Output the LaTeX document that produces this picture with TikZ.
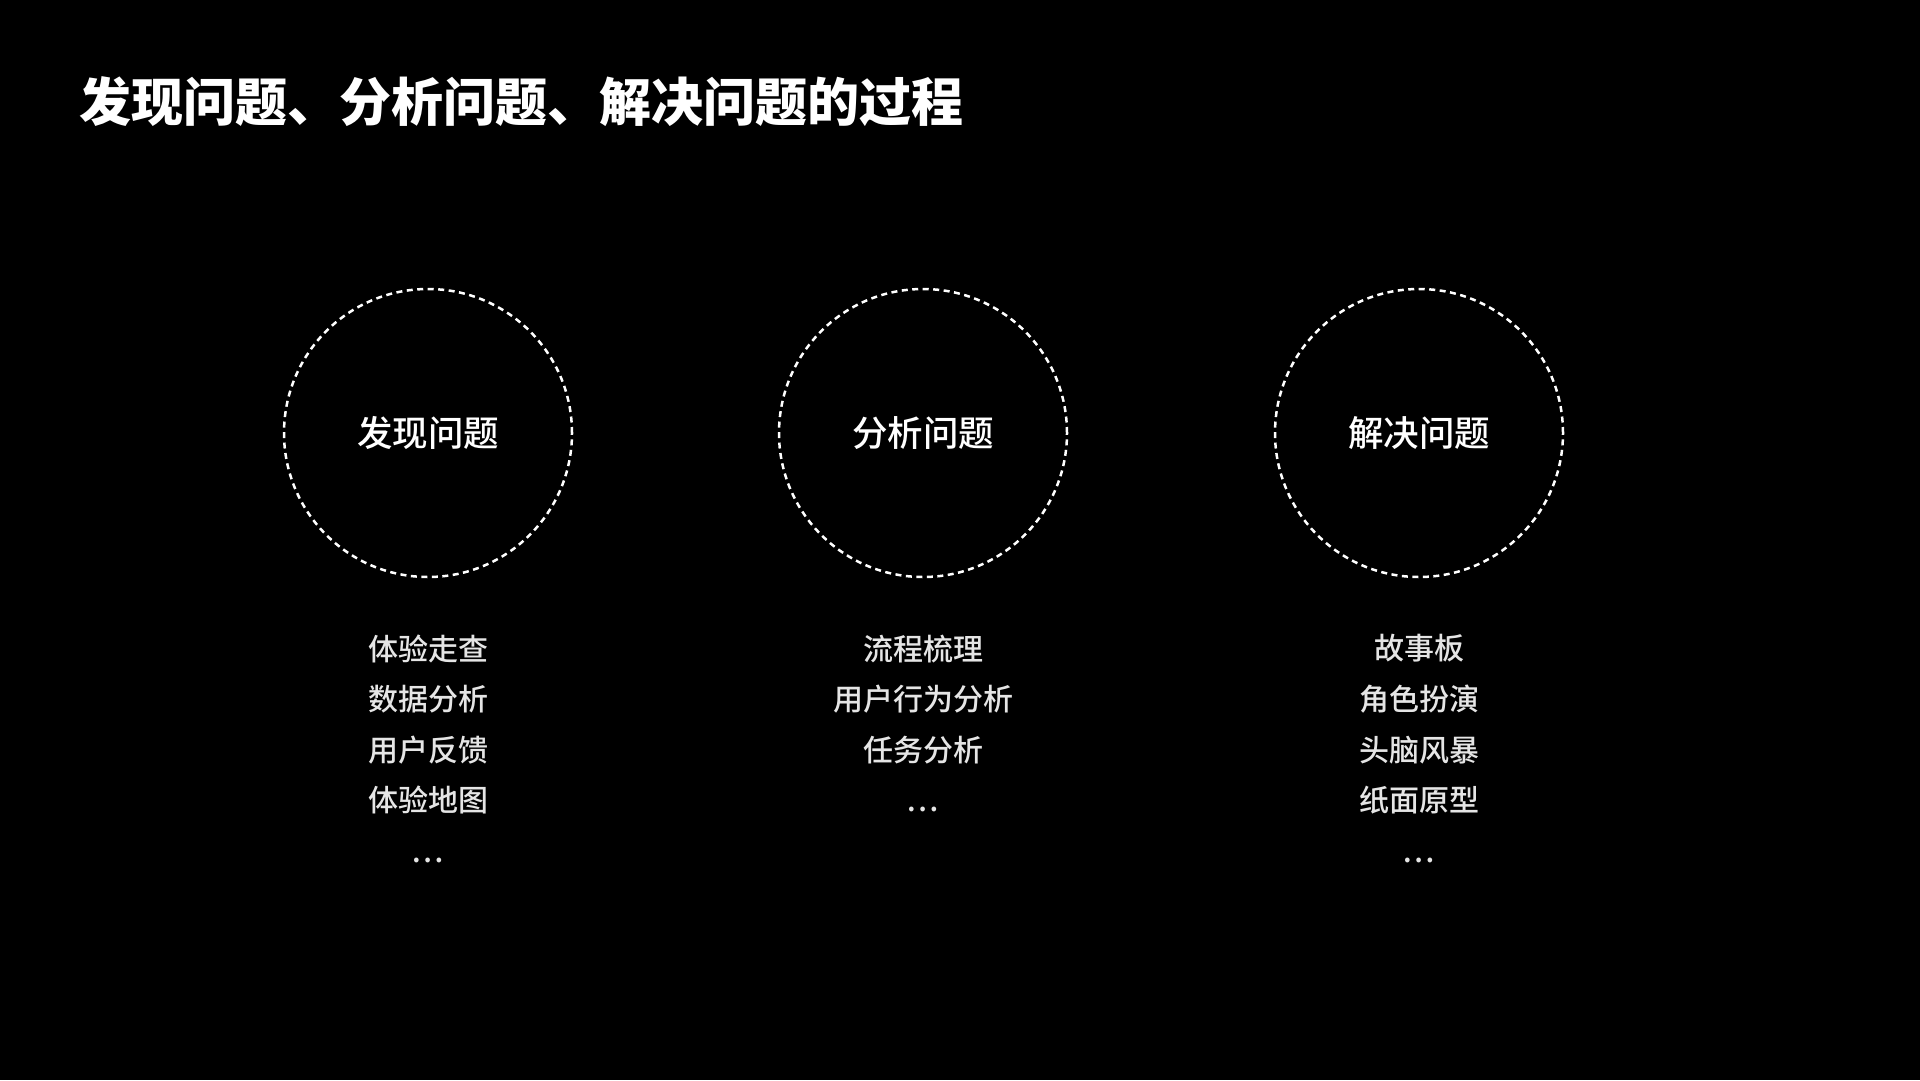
\documentclass[tikz,border=0pt]{standalone}
\usepackage{fontspec}
\setmainfont{Noto Sans CJK SC}
\newfontfamily\medfont{Noto Sans CJK SC}[UprightFont={* Medium}]
\begin{document}
\begin{tikzpicture}[x=1pt,y=-1pt,
  ring/.style={draw=white,line width=2.5pt,dash pattern=on 6pt off 4.5pt,circle,minimum size=288pt,inner sep=0pt},
  head/.style={text=white,font=\fontsize{35.5}{40}\medfont},
  item/.style={text=white!90!black,font=\fontsize{30}{50.6}\medfont,align=center,anchor=north},
  ttl/.style={text=white,font=\fontsize{52}{60}\selectfont\bfseries,anchor=west}]
\fill[black] (0,0) rectangle (1920,1080);
\useasboundingbox (0,0) rectangle (1920,1080);
\node[ttl] (title) at (76,102) {发现问题、分析问题、解决问题的过程};
\node[ring] (c1) at (428,433) {};
\node[ring] (c2) at (923,433) {};
\node[ring] (c3) at (1419,433) {};
\node[head] (h1) at (c1) {发现问题};
\node[head] (h2) at (c2) {分析问题};
\node[head] (h3) at (c3) {解决问题};
\node[item] (l1) at (428,631) {体验走查\\数据分析\\用户反馈\\体验地图\\…};
\node[item] (l2) at (923,631) {流程梳理\\用户行为分析\\任务分析\\…};
\node[item] (l3) at (1419,631) {故事板\\角色扮演\\头脑风暴\\纸面原型\\…};
\end{tikzpicture}
\end{document}
